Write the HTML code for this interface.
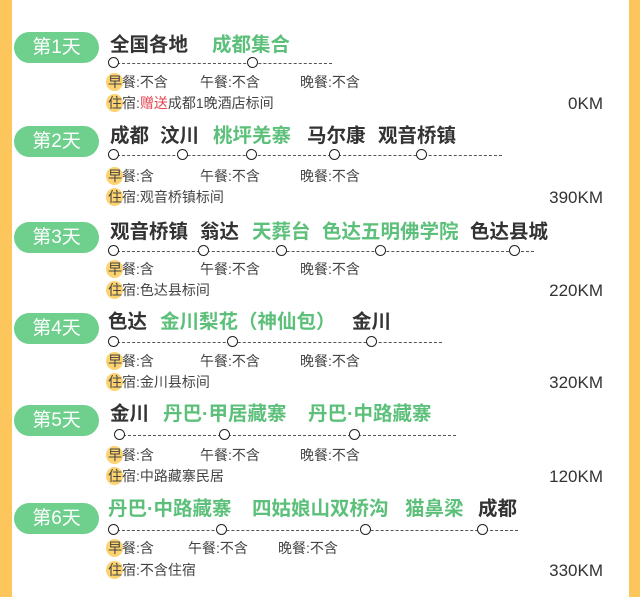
<!DOCTYPE html>
<html><head><meta charset="utf-8"><style>
*{margin:0;padding:0;box-sizing:border-box}
body{width:640px;height:597px;overflow:hidden;background:#fff;font-family:"Liberation Sans","Noto Sans CJK SC",sans-serif;position:relative}
.bl{position:absolute;left:0;top:0;width:12px;height:597px;background:#fdc65c}
.br{position:absolute;right:0;top:0;width:11px;height:597px;background:#fdc65c}
.badge{position:absolute;left:14px;width:85px;height:31px;border-radius:16px;background:#6fcf8d;color:#fff;font-size:19px;line-height:31px;text-align:center}
.t{position:absolute;font-size:19.5px;font-weight:bold;color:#333;line-height:22px;white-space:nowrap}
.g{color:#5cc07a}
.line{position:absolute;height:0;border-top:1px dashed #555}
.c{position:absolute;width:11px;height:11px;border:1.6px solid #222;border-radius:50%;background:#fff}
.m{position:absolute;font-size:14px;color:#444;line-height:16px;white-space:nowrap}
.hl{position:relative}
.hl::before{content:"";position:absolute;left:-2px;top:-1px;width:17px;height:18px;border-radius:50%;background:#fcd36f;z-index:-1}
.km{position:absolute;right:37px;font-size:17px;color:#333;line-height:20px}
.r{color:#e0454f}
</style></head><body>
<div class="bl"></div><div class="br"></div>

<div class="badge" style="top:32px">第1天</div>
<div class="t" style="left:110px;top:34px">全国各地</div>
<div class="t g" style="left:212px;top:34px">成都集合</div>
<div class="line" style="left:112px;width:220px;top:63px"></div>
<div class="c" style="left:108px;top:57px"></div><div class="c" style="left:247px;top:57px"></div>
<div class="m" style="left:108px;top:74px"><span class="hl">早</span>餐:不含</div>
<div class="m" style="left:200px;top:74px">午餐:不含</div>
<div class="m" style="left:300px;top:74px">晚餐:不含</div>
<div class="m" style="left:108px;top:95px"><span class="hl">住</span>宿:<span class="r">赠送</span>成都1晚酒店标间</div>
<div class="km" style="top:94px">0KM</div>

<div class="badge" style="top:126px">第2天</div>
<div class="t" style="left:110px;top:125px">成都</div>
<div class="t" style="left:160px;top:125px">汶川</div>
<div class="t g" style="left:213px;top:125px">桃坪羌寨</div>
<div class="t" style="left:307px;top:125px">马尔康</div>
<div class="t" style="left:378px;top:125px">观音桥镇</div>
<div class="line" style="left:112px;width:390px;top:155px"></div>
<div class="c" style="left:108px;top:149px"></div><div class="c" style="left:177px;top:149px"></div><div class="c" style="left:246px;top:149px"></div><div class="c" style="left:329px;top:149px"></div><div class="c" style="left:416px;top:149px"></div>
<div class="m" style="left:108px;top:168px"><span class="hl">早</span>餐:含</div>
<div class="m" style="left:200px;top:168px">午餐:不含</div>
<div class="m" style="left:300px;top:168px">晚餐:不含</div>
<div class="m" style="left:108px;top:189px"><span class="hl">住</span>宿:观音桥镇标间</div>
<div class="km" style="top:188px">390KM</div>

<div class="badge" style="top:222px">第3天</div>
<div class="t" style="left:110px;top:221px">观音桥镇</div>
<div class="t" style="left:200px;top:221px">翁达</div>
<div class="t g" style="left:252px;top:221px">天葬台</div>
<div class="t g" style="left:322px;top:221px">色达五明佛学院</div>
<div class="t" style="left:470px;top:221px">色达县城</div>
<div class="line" style="left:112px;width:422px;top:251px"></div>
<div class="c" style="left:108px;top:245px"></div><div class="c" style="left:198px;top:245px"></div><div class="c" style="left:276px;top:245px"></div><div class="c" style="left:375px;top:245px"></div><div class="c" style="left:509px;top:245px"></div>
<div class="m" style="left:108px;top:261px"><span class="hl">早</span>餐:含</div>
<div class="m" style="left:200px;top:261px">午餐:不含</div>
<div class="m" style="left:300px;top:261px">晚餐:不含</div>
<div class="m" style="left:108px;top:282px"><span class="hl">住</span>宿:色达县标间</div>
<div class="km" style="top:281px">220KM</div>

<div class="badge" style="top:313px">第4天</div>
<div class="t" style="left:108px;top:311px">色达</div>
<div class="t g" style="left:160px;top:311px">金川梨花（神仙包）</div>
<div class="t" style="left:352px;top:311px">金川</div>
<div class="line" style="left:112px;width:330px;top:342px"></div>
<div class="c" style="left:108px;top:336px"></div><div class="c" style="left:227px;top:336px"></div><div class="c" style="left:366px;top:336px"></div>
<div class="m" style="left:108px;top:353px"><span class="hl">早</span>餐:含</div>
<div class="m" style="left:200px;top:353px">午餐:不含</div>
<div class="m" style="left:300px;top:353px">晚餐:不含</div>
<div class="m" style="left:108px;top:374px"><span class="hl">住</span>宿:金川县标间</div>
<div class="km" style="top:373px">320KM</div>

<div class="badge" style="top:405px">第5天</div>
<div class="t" style="left:110px;top:403px">金川</div>
<div class="t g" style="left:163px;top:403px">丹巴·甲居藏寨</div>
<div class="t g" style="left:308px;top:403px">丹巴·中路藏寨</div>
<div class="line" style="left:118px;width:338px;top:435px"></div>
<div class="c" style="left:114px;top:429px"></div><div class="c" style="left:219px;top:429px"></div><div class="c" style="left:349px;top:429px"></div>
<div class="m" style="left:108px;top:447px"><span class="hl">早</span>餐:含</div>
<div class="m" style="left:200px;top:447px">午餐:不含</div>
<div class="m" style="left:300px;top:447px">晚餐:不含</div>
<div class="m" style="left:108px;top:468px"><span class="hl">住</span>宿:中路藏寨民居</div>
<div class="km" style="top:467px">120KM</div>

<div class="badge" style="top:503px">第6天</div>
<div class="t g" style="left:108px;top:498px">丹巴·中路藏寨</div>
<div class="t g" style="left:252px;top:498px">四姑娘山双桥沟</div>
<div class="t g" style="left:405px;top:498px">猫鼻梁</div>
<div class="t" style="left:478px;top:498px">成都</div>
<div class="line" style="left:112px;width:406px;top:530px"></div>
<div class="c" style="left:108px;top:524px"></div><div class="c" style="left:216px;top:524px"></div><div class="c" style="left:360px;top:524px"></div><div class="c" style="left:477px;top:524px"></div>
<div class="m" style="left:108px;top:540px"><span class="hl">早</span>餐:含</div>
<div class="m" style="left:188px;top:540px">午餐:不含</div>
<div class="m" style="left:278px;top:540px">晚餐:不含</div>
<div class="m" style="left:108px;top:562px"><span class="hl">住</span>宿:不含住宿</div>
<div class="km" style="top:561px">330KM</div>
</body></html>
